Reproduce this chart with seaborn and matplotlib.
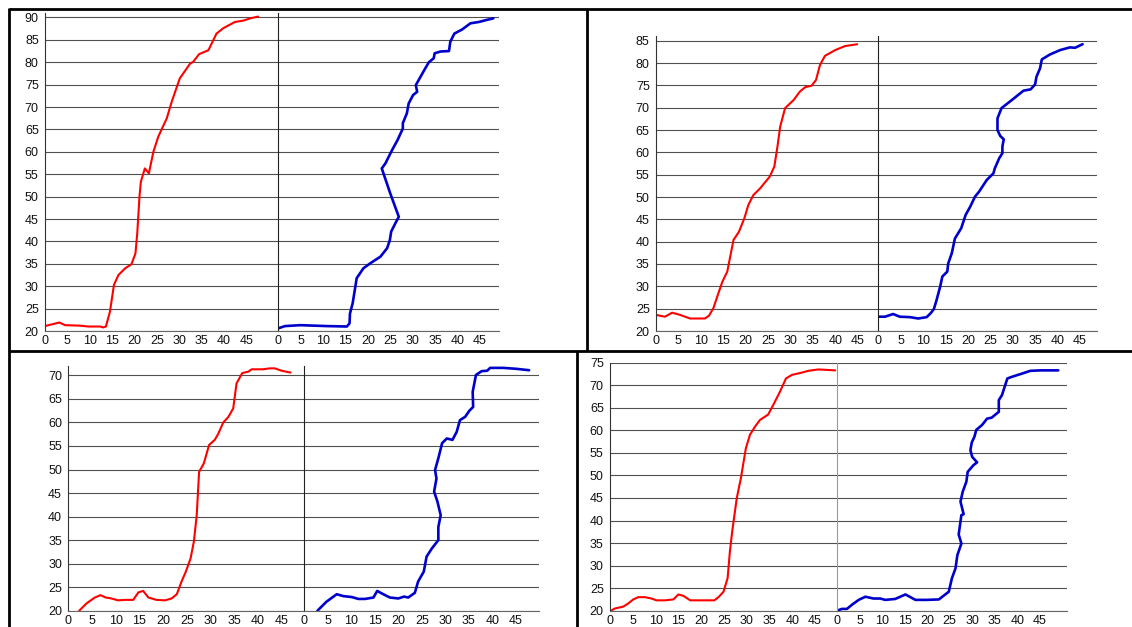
import matplotlib
matplotlib.use("Agg")
import matplotlib.pyplot as plt
from matplotlib.lines import Line2D
import seaborn as sns
import pandas as pd

# ---- temperature traces (x: time, y: temperature) ----
# Panel A
a_red_x = [0, 3.2, 4.5, 7.8, 9.7, 12.3, 13.0, 13.6, 14.5, 15.4, 16.4, 17.9, 19.3, 20.2, 20.6, 21.1,
           21.4, 22.3, 23.2, 24.2, 25.3, 27.2, 28.3, 30.1, 32.4, 33.1, 34.4, 36.5, 38.3, 39.8, 42.4,
           44.3, 45.8, 47.6]
a_red_y = [21.1, 21.9, 21.3, 21.2, 21.0, 21.0, 20.8, 21.0, 24.3, 30.3, 32.5, 34.0, 34.9, 37.3, 41.8,
           50.0, 53.3, 56.3, 55.2, 60.0, 63.4, 67.5, 71.2, 76.4, 79.7, 80.1, 81.8, 82.7, 86.4, 87.6,
           89.0, 89.3, 89.8, 90.2]
a_blue_x = [0, 1.5, 4.9, 10.8, 15.3, 15.9, 16.0, 16.6, 17.2, 17.5, 19.0, 20.5, 22.8, 24.3, 24.9, 25.2,
            26.1, 26.9, 25.0, 23.1, 23.9, 25.4, 26.6, 27.8, 27.8, 28.7, 29.1, 30.1, 31.0, 30.7, 32.5,
            33.6, 34.7, 34.9, 36.2, 38.1, 38.4, 39.3, 41.0, 42.9, 44.8, 46.3, 48.0]
a_blue_y = [20.6, 21.1, 21.3, 21.1, 21.0, 21.7, 23.9, 26.2, 29.9, 31.8, 34.0, 35.1, 36.6, 38.5, 40.3,
            42.2, 44.0, 45.5, 50.7, 56.3, 57.4, 60.4, 62.6, 65.2, 66.4, 68.6, 70.8, 72.7, 73.4, 74.9,
            78.1, 80.0, 80.9, 82.0, 82.4, 82.5, 84.6, 86.4, 87.3, 88.7, 89.0, 89.4, 89.8]

# Panel B
b_red_x = [0, 2.0, 3.6, 5.4, 7.6, 9.4, 10.9, 11.8, 12.8, 13.9, 14.8, 15.9, 17.3, 18.5, 19.7, 20.6,
           21.7, 23.2, 25.4, 26.4, 27.1, 27.7, 28.8, 30.7, 32.1, 33.3, 34.7, 35.7, 36.6, 37.7, 40.0,
           42.2, 44.9]
b_red_y = [23.6, 23.2, 24.1, 23.6, 22.8, 22.8, 22.8, 23.4, 25.1, 28.4, 31.0, 33.3, 40.4, 42.2, 45.2,
           48.2, 50.4, 51.9, 54.6, 56.8, 61.3, 65.7, 69.9, 71.7, 73.6, 74.6, 74.9, 76.2, 79.6, 81.6,
           82.9, 83.8, 84.2]
b_blue_x = [0, 1.5, 3.3, 4.8, 7.1, 8.9, 10.8, 11.7, 12.4, 13.0, 13.8, 14.3, 15.4, 15.6, 16.4, 17.1,
            18.5, 19.5, 20.5, 21.6, 22.5, 24.2, 25.7, 26.0, 27.0, 27.7, 27.7, 28.0, 27.2, 26.6, 26.6,
            27.5, 29.8, 32.4, 34.0, 35.0, 35.3, 36.1, 36.5, 38.3, 40.6, 42.8, 43.9, 45.6]
b_blue_y = [23.2, 23.2, 23.8, 23.2, 23.1, 22.8, 23.1, 24.0, 24.9, 26.9, 29.9, 32.2, 33.3, 35.1, 37.4,
            40.7, 43.0, 46.0, 47.8, 50.1, 51.2, 53.8, 55.3, 56.4, 58.7, 59.8, 61.3, 62.9, 63.7, 65.0,
            67.6, 69.9, 71.7, 73.8, 74.1, 75.2, 76.9, 78.8, 80.8, 81.9, 82.9, 83.5, 83.4, 84.2]

# Panel C
c_red_x = [2.3, 3.9, 5.6, 6.8, 7.9, 9.1, 10.5, 12.0, 13.7, 14.8, 15.8, 16.9, 18.6, 20.4, 21.8, 22.9,
           23.9, 24.8, 25.8, 26.5, 27.1, 27.6, 28.6, 29.7, 30.9, 31.6, 32.7, 33.8, 34.8, 35.5, 36.7,
           38.0, 38.7, 41.1, 42.5, 43.6, 45.0, 46.9]
c_red_y = [20.0, 21.6, 22.8, 23.3, 22.8, 22.6, 22.2, 22.3, 22.3, 23.9, 24.2, 22.8, 22.3, 22.2, 22.6,
           23.5, 26.2, 28.3, 31.1, 34.7, 40.3, 49.5, 51.3, 55.2, 56.3, 57.5, 60.0, 61.2, 63.0, 68.3,
           70.5, 70.8, 71.3, 71.3, 71.5, 71.5, 71.0, 70.6]
c_blue_x = [2.8, 4.7, 6.9, 8.3, 10.1, 11.5, 12.9, 14.7, 15.5, 16.8, 18.2, 20.0, 21.2, 22.1, 23.5, 24.2,
            25.4, 26.0, 27.1, 28.5, 28.5, 29.0, 28.3, 27.6, 28.1, 27.8, 28.5, 29.3, 30.3, 31.5, 32.4,
            33.1, 34.2, 35.1, 35.9, 35.8, 36.5, 37.7, 38.9, 39.5, 42.3, 45.1, 47.8]
c_blue_y = [20.0, 21.9, 23.5, 23.1, 22.9, 22.5, 22.5, 22.8, 24.2, 23.5, 22.8, 22.6, 23.0, 22.8, 23.8,
            26.2, 28.3, 31.5, 33.2, 35.0, 37.8, 40.3, 43.2, 45.3, 48.1, 49.9, 52.4, 55.6, 56.6, 56.3,
            58.0, 60.5, 61.2, 62.5, 63.3, 66.5, 70.1, 70.9, 71.0, 71.6, 71.6, 71.4, 71.1]

# Panel D
d_red_x = [0.2, 1.1, 2.9, 4.0, 5.1, 6.2, 7.7, 9.1, 10.2, 12.1, 13.9, 15.0, 16.1, 17.6, 20.1, 22.9,
           23.9, 24.9, 25.8, 26.3, 26.8, 27.8, 28.7, 29.8, 30.7, 31.8, 32.9, 34.7, 35.8, 37.3, 38.6,
           39.9, 42.1, 43.5, 45.7, 49.4]
d_red_y = [20.0, 20.5, 20.9, 21.6, 22.5, 23.0, 23.0, 22.7, 22.3, 22.3, 22.5, 23.6, 23.3, 22.3, 22.3,
           22.3, 23.1, 24.2, 27.2, 33.1, 37.5, 44.9, 49.3, 56.0, 59.0, 60.8, 62.3, 63.5, 65.6, 68.6,
           71.5, 72.3, 72.8, 73.2, 73.5, 73.3]
d_blue_x = [0, 1.1, 2.2, 3.3, 4.8, 6.3, 8.1, 9.6, 10.7, 12.9, 15.2, 17.4, 20.0, 22.6, 24.8, 25.5, 26.3,
            26.7, 27.6, 27.0, 27.6, 28.1, 27.4, 27.9, 28.7, 29.0, 30.3, 31.1, 30.0, 29.6, 29.9, 30.5,
            30.9, 32.2, 33.3, 34.3, 35.9, 35.9, 36.6, 37.8, 38.9, 41.1, 42.9, 45.2, 47.4, 49.1]
d_blue_y = [20.0, 20.4, 20.4, 21.3, 22.4, 23.1, 22.7, 22.7, 22.4, 22.6, 23.6, 22.4, 22.4, 22.5, 24.2,
            27.2, 29.4, 32.3, 34.9, 36.9, 41.2, 41.4, 44.2, 46.4, 48.6, 50.8, 52.3, 52.9, 54.1, 55.6,
            57.3, 58.6, 60.1, 61.2, 62.6, 62.8, 64.1, 66.7, 67.8, 71.5, 71.9, 72.6, 73.2, 73.3, 73.3,
            73.3]

# Axis tick labels
x_ticks = [0, 5, 10, 15, 20, 25, 30, 35, 40, 45]
a_y_ticks = list(range(20, 91, 5))
b_y_ticks = list(range(20, 86, 5))
c_y_ticks = list(range(20, 71, 5))
d_y_ticks = list(range(20, 76, 5))

RED = "#ff0000"
BLUE = "#0000cc"
GRID = "#505050"

sns.set_style("white")
plt.rcParams["font.family"] = ["Liberation Sans", "DejaVu Sans"]
plt.rcParams["font.size"] = 9

W, H = 1132, 627
fig = plt.figure(figsize=(W / 100, H / 100), dpi=100)


def add_px_axes(left, right, top, bottom):
    return fig.add_axes([left / W, 1 - bottom / H, (right - left) / W, (bottom - top) / H])


def style_axes(ax, xmax, ylim, yticks, show_y, spine_color="#333333"):
    ax.set_xlim(0, xmax)
    ax.set_ylim(*ylim)
    ax.set_xticks(x_ticks)
    ax.set_yticks(yticks)
    ax.grid(axis="y", color=GRID, linewidth=0.8)
    ax.grid(axis="x", visible=False)
    ax.set_axisbelow(True)
    for side in ("top", "right"):
        ax.spines[side].set_visible(False)
    ax.spines["left"].set_color(spine_color)
    ax.spines["left"].set_linewidth(0.8)
    ax.spines["bottom"].set_color("#666666")
    ax.spines["bottom"].set_linewidth(0.8)
    ax.tick_params(axis="x", direction="inout", length=3, width=0.6, color="#444444",
                   pad=1.5, labelsize=9, labelcolor="#111111")
    if show_y:
        ax.tick_params(axis="y", direction="out", length=3, width=0.6, color="#444444",
                       pad=1.5, labelsize=9, labelcolor="#111111")
    else:
        ax.tick_params(axis="y", length=0, labelleft=False)
    ax.set_xlabel("")
    ax.set_ylabel("")


def draw_pair(red, blue, geom):
    (rx, ry), (bx, by) = red, blue
    g = geom
    ax_r = add_px_axes(g["x0"], g["x1"], g["top"], g["bottom"])
    ax_b = add_px_axes(g["x1"], g["x2"], g["top"], g["bottom"])
    sns.lineplot(data=pd.DataFrame({"t": rx, "T": ry}), x="t", y="T", sort=False,
                 estimator=None, color=RED, linewidth=1.5, ax=ax_r)
    sns.lineplot(data=pd.DataFrame({"t": bx, "T": by}), x="t", y="T", sort=False,
                 estimator=None, color=BLUE, linewidth=1.9, ax=ax_b)
    style_axes(ax_r, g["xr"], g["ylim"], g["yticks"], True)
    style_axes(ax_b, g["xb"], g["ylim"], g["yticks"], False, g.get("bspine", "#222222"))


draw_pair((a_red_x, a_red_y), (a_blue_x, a_blue_y),
          dict(x0=45, x1=278.3, x2=498.7, top=13, bottom=331, xr=52.1, xb=49.2,
               ylim=(20, 91), yticks=a_y_ticks))
draw_pair((b_red_x, b_red_y), (b_blue_x, b_blue_y),
          dict(x0=656, x1=878.3, x2=1096.7, top=36.2, bottom=331, xr=49.6, xb=48.75,
               ylim=(20, 86), yticks=b_y_ticks))
draw_pair((c_red_x, c_red_y), (c_blue_x, c_blue_y),
          dict(x0=68.3, x1=304.3, x2=539, top=366, bottom=610.7, xr=49.8, xb=49.9,
               ylim=(20, 72), yticks=c_y_ticks))
draw_pair((d_red_x, d_red_y), (d_blue_x, d_blue_y),
          dict(x0=610, x1=837, x2=1067.3, top=362.7, bottom=610.7, xr=49.8, xb=51.1,
               ylim=(20, 75), yticks=d_y_ticks, bspine="#999999"))

# Table cell borders around the four panels
def border(x0, y0, x1, y1):
    fig.add_artist(Line2D([x0 / W, x1 / W], [1 - y0 / H, 1 - y1 / H], color="black",
                          linewidth=2.0, solid_capstyle="butt"))

border(9, 9, W, 9)
border(9, 8, 9, H)
border(586.5, 9, 586.5, 351)
border(9, 351, W, 351)
border(577, 351, 577, H)

fig.savefig("out.png", dpi=100)
